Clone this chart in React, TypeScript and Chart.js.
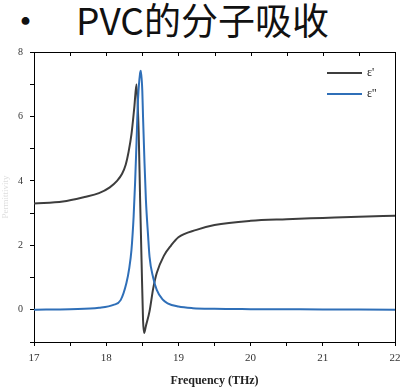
import React, { useEffect, useRef } from "react";
import { Chart, registerables } from "chart.js";

Chart.register(...registerables);

const titleText = "PVC的分子吸收";
const xTitle = "Frequency (THz)";
const yTitle = "Permittivity";
const seriesNames = ["ε'", "ε''"];

const realFreq = [17.0, 17.4, 17.7, 17.9, 18.05, 18.15, 18.22, 18.27, 18.31, 18.35, 18.39, 18.42, 18.45, 18.47, 18.49, 18.51, 18.525, 18.55, 18.6, 18.65, 18.7, 18.8, 18.9, 19.0, 19.25, 19.5, 20.0, 20.5, 21.0, 21.5, 22.0];
const realVals = [3.3, 3.36, 3.5, 3.62, 3.8, 4.0, 4.22, 4.5, 4.9, 5.45, 6.3, 7.0, 5.5, 3.4, 1.5, -0.3, -0.72, -0.5, -0.05, 0.65, 1.14, 1.68, 2.0, 2.25, 2.48, 2.63, 2.76, 2.81, 2.85, 2.89, 2.92];

const imagFreq = [17.0, 17.5, 17.9, 18.1, 18.2, 18.28, 18.32, 18.35, 18.38, 18.4, 18.42, 18.44, 18.47, 18.48, 18.5, 18.51, 18.53, 18.55, 18.58, 18.6, 18.65, 18.7, 18.78, 18.85, 19.0, 19.2, 19.5, 20.0, 21.0, 22.0];
const imagVals = [0.0, 0.02, 0.06, 0.15, 0.3, 0.83, 1.3, 1.86, 2.9, 3.93, 5.2, 6.5, 7.35, 7.42, 6.8, 6.0, 4.6, 3.41, 2.3, 1.65, 1.0, 0.62, 0.32, 0.2, 0.1, 0.05, 0.03, 0.02, 0.01, 0.0];

const xMin = 17, xMax = 22, xStep = 0.5;
const yMin = -1, yMax = 8, yStep = 1;
const seriesColors = ["#3d3d3d", "#2f6fb8"];

const framePlugin = {
  id: "frame",
  afterDatasetsDraw(chart: any) {
    const { ctx, chartArea } = chart;
    const xs = chart.scales.x;
    ctx.save();
    ctx.strokeStyle = "#000";
    ctx.lineWidth = 1;
    ctx.beginPath();
    ctx.moveTo(chartArea.left, chartArea.top + 0.5);
    ctx.lineTo(chartArea.right + 0.5, chartArea.top + 0.5);
    ctx.lineTo(chartArea.right + 0.5, chartArea.bottom);
    ctx.stroke();
    for (let v = xMin; v <= xMax + 1e-9; v += xStep) {
      const px = Math.round(xs.getPixelForValue(v)) + 0.5;
      ctx.beginPath();
      ctx.moveTo(px, chartArea.top);
      ctx.lineTo(px, chartArea.top + 4);
      ctx.stroke();
    }
    const ds = chart.data.datasets;
    ctx.font = "12px 'Liberation Serif', serif";
    ctx.textBaseline = "middle";
    ds.forEach((d: any, i: number) => {
      const y = chartArea.top + 21 + i * 21;
      const x0 = chartArea.right - 68;
      ctx.strokeStyle = d.borderColor;
      ctx.lineWidth = 2;
      ctx.beginPath();
      ctx.moveTo(x0, y);
      ctx.lineTo(x0 + 35, y);
      ctx.stroke();
      ctx.fillStyle = "#222";
      ctx.fillText(d.label, x0 + 40, y);
    });
    ctx.restore();
  },
};

export default function App() {
  const ref = useRef<HTMLCanvasElement>(null);
  useEffect(() => {
    if (!ref.current) return;
    const chart = new Chart(ref.current, {
      type: "line",
      data: {
        datasets: [
          {
            label: seriesNames[0],
            data: realFreq.map((f, i) => ({ x: f, y: realVals[i] })),
            borderColor: seriesColors[0],
            borderWidth: 2,
            pointRadius: 0,
            cubicInterpolationMode: "monotone",
            order: 1,
          },
          {
            label: seriesNames[1],
            data: imagFreq.map((f, i) => ({ x: f, y: imagVals[i] })),
            borderColor: seriesColors[1],
            borderWidth: 2,
            pointRadius: 0,
            cubicInterpolationMode: "monotone",
            order: 0,
          },
        ],
      },
      options: {
        animation: false,
        responsive: false,
        maintainAspectRatio: false,
        layout: { padding: { top: 8, right: 14, left: 0, bottom: 0 } },
        plugins: { legend: { display: false }, tooltip: { enabled: false } },
        scales: {
          x: {
            type: "linear",
            min: xMin,
            max: xMax,
            afterFit: (s: any) => { s.height = 46; s.paddingLeft = 0; s.paddingRight = 0; },
            ticks: {
              stepSize: xStep,
              autoSkip: false,
              maxRotation: 0,
              padding: 6,
              color: "#333",
              font: { family: "'Liberation Serif', serif", size: 11 },
              callback: (v: any) => (Number.isInteger(v) ? String(v) : ""),
            },
            grid: { drawOnChartArea: false, drawTicks: true, tickLength: 4, color: "#000" },
            border: { display: true, color: "#000", width: 1 },
            title: {
              display: true,
              text: xTitle,
              color: "#222",
              padding: { top: 1, bottom: 0 },
              font: { family: "'Liberation Serif', serif", size: 12, weight: "bold" },
            },
          },
          y: {
            type: "linear",
            min: yMin,
            max: yMax,
            afterFit: (s: any) => { s.width = 34; s.paddingTop = 0; s.paddingBottom = 0; },
            ticks: {
              stepSize: yStep,
              autoSkip: false,
              padding: 7,
              color: "#333",
              font: { family: "'Liberation Serif', serif", size: 10 },
              callback: (v: any) => (v >= 0 && v % 2 === 0 ? String(v) : ""),
            },
            grid: { drawOnChartArea: false, drawTicks: true, tickLength: 4, color: "#000" },
            border: { display: true, color: "#000", width: 1 },
            title: {
              display: true,
              text: yTitle,
              color: "#dddddd",
              padding: 0,
              font: { family: "'Liberation Serif', serif", size: 9 },
            },
          },
        },
      },
      plugins: [framePlugin],
    });
    return () => chart.destroy();
  }, []);

  return (
    <div style={{ position: "fixed", left: 0, top: 0, width: 409, height: 388, background: "#fff", overflow: "hidden" }}>
      <div style={{ position: "absolute", left: 7, top: -5, fontFamily: "'Noto Sans CJK SC', 'Noto Sans', sans-serif", fontSize: 37, color: "#111", lineHeight: "48px" }}>
        •
      </div>
      <div style={{ position: "absolute", left: 76, top: -5, fontFamily: "'Noto Sans CJK SC', 'Noto Sans', sans-serif", fontSize: 37, color: "#111", lineHeight: "48px", whiteSpace: "nowrap" }}>
        {titleText}
      </div>
      <canvas ref={ref} width={409} height={344} style={{ position: "absolute", left: 0, top: 44, width: 409, height: 344 }} />
    </div>
  );
}
